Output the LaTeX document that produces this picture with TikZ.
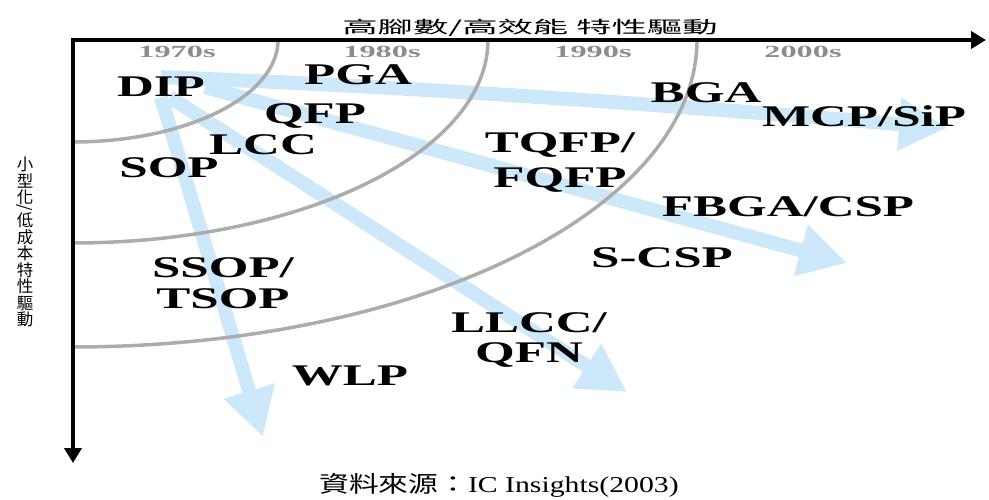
\documentclass[tikz,border=0pt]{standalone}
\usepackage{fontspec}
\setmainfont{Liberation Serif}
\newfontfamily\cjk{Noto Sans CJK TC}
\usetikzlibrary{arrows.meta}
\definecolor{bandblue}{RGB}{204,232,250}
\definecolor{arcgray}{RGB}{172,172,172}
\definecolor{yeargray}{RGB}{140,140,140}
\pgfdeclarelayer{background}
\pgfsetlayers{background,main}
\newcommand{\pk}[1]{\scalebox{1.7}[1]{#1}}
\newcommand{\twoline}[2]{\scalebox{1.7}[1]{\begin{tabular}[t]{@{}c@{}}#1\\#2\end{tabular}}}
\begin{document}
\begin{tikzpicture}[x=1pt,y=-1pt,
  pkg/.style={font=\bfseries\fontsize{30}{35}\selectfont, inner sep=0pt, text=black, anchor=base},
  year/.style={font=\bfseries\fontsize{17}{17}\selectfont, text=yeargray, inner sep=0pt, anchor=base},
  band/.style={line width=14pt, draw=bandblue, -{Triangle[width=50pt,length=48pt]}},
  arcline/.style={line width=3.5pt, draw=arcgray},
  axis/.style={line width=4.5pt, draw=black, {Triangle[width=17pt,length=15pt]}-{Triangle[width=17pt,length=15pt]}}
]
\useasboundingbox (0,0) rectangle (989,500);

% package labels
\node[pkg] (DIP) at (161,97) {\pk{DIP}};
\node[pkg] (PGA) at (358,85) {\pk{PGA}};
\node[pkg] (QFP) at (315,124) {\pk{QFP}};
\node[pkg] (LCC) at (263,155) {\pk{LCC}};
\node[pkg] (SOP) at (169,178) {\pk{SOP}};
\node[pkg] (BGA) at (706,103) {\pk{BGA}};
\node[pkg] (MCP) at (864,127) {\pk{MCP/SiP}};
\node[pkg, font=\bfseries\fontsize{30}{35}\selectfont] (TQFP) at (560,153) {\twoline{TQFP/}{FQFP}};
\node[pkg] (FBGA) at (788,217) {\pk{FBGA/CSP}};
\node[pkg] (SCSP) at (662,268) {\pk{S-CSP}};
\node[pkg, font=\bfseries\fontsize{30}{31}\selectfont] (SSOP) at (223,277) {\twoline{SSOP/}{TSOP}};
\node[pkg, font=\bfseries\fontsize{30}{30}\selectfont] (LLCC) at (529,332) {\twoline{LLCC/}{QFN}};
\node[pkg] (WLP) at (350,385) {\pk{WLP}};

% year labels
\node[year] (y70) at (177,58) {\scalebox{1.9}[1]{1970s}};
\node[year] (y80) at (382,58) {\scalebox{1.9}[1]{1980s}};
\node[year] (y90) at (593,58) {\scalebox{1.9}[1]{1990s}};
\node[year] (y00) at (803,58) {\scalebox{1.9}[1]{2000s}};

% axis titles and source
\node[inner sep=0pt, font=\cjk\fontsize{17}{17}\selectfont] (xtitle) at (530,28) {\scalebox{2.08}[1]{高腳數/高效能 特性驅動}};
\node[inner sep=0pt, align=center, font=\cjk\fontsize{16.5}{16.5}\selectfont] (ytitle) at (25,242)
  {小\\型\\化\\[-7pt]\makebox[0pt]{\rotatebox[origin=c]{-90}{/}}\\[-3pt]低\\成\\本\\特\\性\\驅\\動};
\node[inner sep=0pt, font=\fontsize{22.7}{24}\selectfont] (source) at (499,485)
  {\scalebox{1.31}[1]{{\cjk 資料來源：}IC Insights(2003)}};

% axes
\coordinate (O) at (73,40);
\coordinate (Xend) at (986,40);
\coordinate (Yend) at (73,463);
\draw[axis] (Yend) -- (O) -- (Xend);

% arrow end points
\coordinate (e1) at (947,128);
\coordinate (e2) at (847,263);
\coordinate (e3) at (627,392);
\coordinate (e4) at (263,437);

\begin{pgfonlayer}{background}
  \draw[band] (DIP.north) .. controls (450,88) and (700,108) .. (e1);
  \draw[band] (DIP.east) -- (e2);
  \draw[band] ([xshift=9pt]DIP.south) -- (e3);
  \draw[band] (DIP.south) -- (e4);
  \draw[arcline] plot[domain=0:90,samples=60,smooth] ({73+205*cos(\x)},{40+102*sin(\x)});
  \draw[arcline] plot[domain=0:90,samples=60,smooth] ({73+415*cos(\x)},{40+203*sin(\x)});
  \draw[arcline] plot[domain=0:90,samples=60,smooth] ({73+624*cos(\x)},{40+307*sin(\x)});
\end{pgfonlayer}
\end{tikzpicture}
\end{document}
